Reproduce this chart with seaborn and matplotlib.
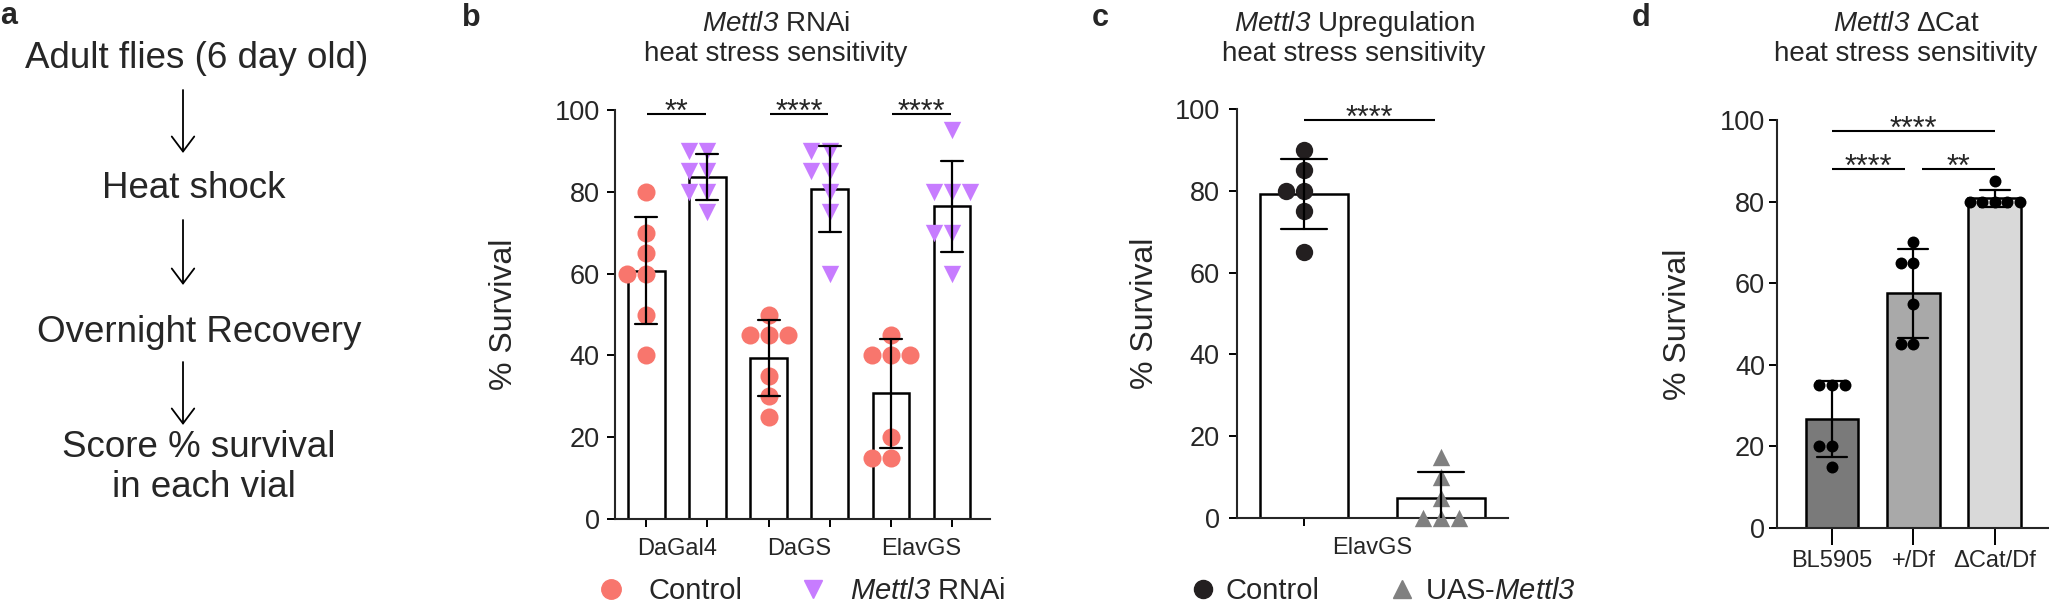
import numpy as np
import pandas as pd
import matplotlib
matplotlib.use("Agg")
import matplotlib.pyplot as plt
import seaborn as sns
from matplotlib.lines import Line2D

# ---------------- data ----------------
a_steps = ["Adult flies (6 day old)", "Heat shock", "Overnight Recovery", "Score % survival\nin each vial"]

b_groups = ["DaGal4", "DaGS", "ElavGS"]
b_conditions = ["Control", "Mettl3 RNAi"]
b_dagal4_control = [80, 70, 65, 60, 60, 50, 40]
b_dagal4_rnai = [90, 90, 85, 85, 80, 80, 75]
b_dags_control = [50, 45, 45, 45, 35, 30, 25]
b_dags_rnai = [90, 90, 85, 85, 80, 75, 60]
b_elavgs_control = [45, 40, 40, 40, 20, 15, 15]
b_elavgs_rnai = [95, 80, 80, 80, 70, 70, 60]
b_sig = ["**", "****", "****"]

c_group = "ElavGS"
c_conditions = ["Control", "UAS-Mettl3"]
c_control = [90, 85, 80, 80, 75, 65]
c_uas = [15, 10, 5, 0, 0, 0]
c_sig = "****"

d_genotypes = ["BL5905", "+/Df", "\u0394Cat/Df"]
d_bl5905 = [35, 35, 35, 20, 20, 15]
d_plus_df = [70, 65, 65, 55, 45, 45]
d_dcat_df = [85, 80, 80, 80, 80, 80]
d_sig_pairs = [(0, 2), (0, 1), (1, 2)]
d_sig = ["****", "****", "**"]

yticks = [0, 20, 40, 60, 80, 100]

# ---------------- style ----------------
PINK = "#F8766D"
PURPLE = "#C77CFF"
DARK = "#231F20"
GRAY = "#808080"
d_colors = ["#7A7A7A", "#A9A9A9", "#D9D9D9"]

sns.set_style("ticks")
plt.rcParams["font.family"] = ["Liberation Sans", "DejaVu Sans"]
plt.rcParams["mathtext.fontset"] = "custom"
# all math segments in this figure are the italic gene name
plt.rcParams["mathtext.rm"] = "Liberation Sans:italic"
plt.rcParams["mathtext.it"] = "Liberation Sans:italic"
plt.rcParams["mathtext.bf"] = "Liberation Sans:bold"
plt.rcParams["axes.linewidth"] = 1.5

GENE = r"$\mathrm{Mettl3}$"

W, H = 2049, 605
fig = plt.figure(figsize=(W / 100, H / 100), dpi=100)

# overlay axes in pixel coordinates for free text
ov = fig.add_axes([0, 0, 1, 1], zorder=-10)
ov.set_xlim(0, W)
ov.set_ylim(H, 0)
ov.axis("off")


def px_axes(x0, x1, y0, y1):
    """x0,x1 left/right px; y0 = px of bottom, y1 = px of top"""
    return fig.add_axes([x0 / W, (H - y0) / H, (x1 - x0) / W, (y0 - y1) / H])


TICK_FS = 19.5
YLAB_FS = 23
XT_FS = 17
LEG_FS = 21
STAR_FS = 22
TITLE_FS = 20


def style_axis(ax, ypad):
    sns.despine(ax=ax)
    ax.set_facecolor("none")
    ax.set_ylim(0, 100)
    ax.set_yticks(yticks)
    ax.set_yticklabels([str(v) for v in yticks])
    ax.tick_params(axis="y", labelsize=TICK_FS, length=5.5, width=1.4, pad=ypad, color="black")
    ax.tick_params(axis="x", which="major", length=5.5, width=1.4, color="black")
    ax.spines["left"].set_linewidth(1.5)
    ax.spines["bottom"].set_linewidth(1.5)
    ax.set_xlabel("")
    ax.set_ylabel("% Survival", fontsize=YLAB_FS)
    for coll in ax.collections:
        coll.set_clip_on(False)
        coll.set_zorder(4)
    for ln in ax.lines:
        ln.set_zorder(5)


def sig(ax, x0, x1, y, text):
    ax.plot([x0, x1], [y, y], color="black", lw=1.5, clip_on=False, solid_capstyle="butt")
    ax.annotate(text, xy=((x0 + x1) / 2, y), xytext=(0, -5), textcoords="offset points",
                ha="center", va="baseline", fontsize=STAR_FS, annotation_clip=False)


# ---------------- panel a ----------------
ov.text(0, 24, "a", fontsize=22, fontweight="bold", ha="left", va="baseline")
ov.text(197, 68, a_steps[0], fontsize=26.5, ha="center", va="baseline")
ov.text(194, 198, a_steps[1], fontsize=26.5, ha="center", va="baseline")
ov.text(199, 342, a_steps[2], fontsize=26.5, ha="center", va="baseline")
lines = a_steps[3].split("\n")
ov.text(199, 457, lines[0], fontsize=26.5, ha="center", va="baseline")
ov.text(204, 497, lines[1], fontsize=26.5, ha="center", va="baseline")
for ys, ye in [(90, 153), (220, 285), (362, 425)]:
    ov.annotate("", xy=(183, ye), xytext=(183, ys),
                arrowprops=dict(arrowstyle="->,head_length=0.4,head_width=0.3", lw=1.3,
                                color="black", mutation_scale=27, shrinkA=0, shrinkB=0))

# ---------------- panel b ----------------
b_order = [f"{g}|{c}" for g in b_groups for c in b_conditions]
b_values = [b_dagal4_control, b_dagal4_rnai, b_dags_control, b_dags_rnai, b_elavgs_control, b_elavgs_rnai]
rows = []
for key, vals in zip(b_order, b_values):
    cond = key.split("|")[1]
    for v in vals:
        rows.append({"pos": key, "value": v, "cond": cond})
df_b = pd.DataFrame(rows)

ax_b = px_axes(615, 990, 519, 110)
sns.barplot(data=df_b, x="pos", y="value", order=b_order, errorbar="sd", width=0.6,
            color="white", edgecolor="black", linewidth=1.8, capsize=0.36,
            err_kws={"color": "black", "linewidth": 1.6}, ax=ax_b)
sns.swarmplot(data=df_b[df_b["cond"] == b_conditions[0]], x="pos", y="value", order=b_order,
              color=PINK, size=13, marker="o", linewidth=0, ax=ax_b)
sns.swarmplot(data=df_b[df_b["cond"] == b_conditions[1]], x="pos", y="value", order=b_order,
              color=PURPLE, size=12.5, marker="v", linewidth=0, ax=ax_b)
style_axis(ax_b, ypad=5.5)
ax_b.set_xlim(-0.51, 5.62)
ax_b.set_xticks(range(len(b_order)))
ax_b.set_xticklabels([""] * len(b_order))
ax_b.set_xticks([0.5, 2.5, 4.5], minor=True)
ax_b.set_xticklabels(b_groups, minor=True, fontsize=XT_FS)
ax_b.tick_params(axis="x", which="minor", length=0, pad=14)
ax_b.yaxis.set_label_coords(-0.255, 0.5)
for i, s in enumerate(b_sig):
    sig(ax_b, 2 * i + 0.02, 2 * i + 0.98, 99.0, s)
ax_b.legend(handles=[Line2D([], [], marker="o", ls="", color=PINK, markersize=14),
                     Line2D([], [], marker="v", ls="", color=PURPLE, markersize=13)],
            labels=["Control", GENE + " RNAi"], ncol=2, frameon=False,
            fontsize=LEG_FS, handlelength=1.0, handletextpad=0.8, columnspacing=1.9,
            loc="center left", bbox_to_anchor=(596 / W, (H - 591) / H),
            bbox_transform=fig.transFigure, borderpad=0, borderaxespad=0)
ov.text(462, 26, "b", fontsize=22, fontweight="bold", ha="left", va="baseline")
ov.text(776, 31, GENE + " RNAi", fontsize=TITLE_FS, ha="center", va="baseline")
ov.text(776, 61, "heat stress sensitivity", fontsize=TITLE_FS, ha="center", va="baseline")

# ---------------- panel c ----------------
rows = [{"cond": c_conditions[0], "value": v} for v in c_control] + \
       [{"cond": c_conditions[1], "value": v} for v in c_uas]
df_c = pd.DataFrame(rows)
ax_c = px_axes(1237, 1508, 518, 109)
sns.barplot(data=df_c, x="cond", y="value", order=c_conditions, errorbar="sd", width=0.64,
            color="white", edgecolor="black", linewidth=1.8, capsize=0.34,
            err_kws={"color": "black", "linewidth": 1.6}, ax=ax_c)
sns.swarmplot(data=df_c[df_c["cond"] == c_conditions[0]], x="cond", y="value", order=c_conditions,
              color=DARK, size=12.5, marker="o", linewidth=0, ax=ax_c)
sns.swarmplot(data=df_c[df_c["cond"] == c_conditions[1]], x="cond", y="value", order=c_conditions,
              color=GRAY, size=12.5, marker="^", linewidth=0, ax=ax_c)
style_axis(ax_c, ypad=7)
ax_c.set_xlim(-0.49, 1.49)
ax_c.set_xticks([0, 1])
ax_c.set_xticklabels(["", ""])
ax_c.set_xticks([0.5], minor=True)
ax_c.set_xticklabels([c_group], minor=True, fontsize=XT_FS)
ax_c.tick_params(axis="x", which="minor", length=0, pad=14)
ax_c.yaxis.set_label_coords(-0.284, 0.5)
sig(ax_c, 0, 0.96, 97.3, c_sig)
ax_c.legend(handles=[Line2D([], [], marker="o", ls="", color=DARK, markersize=13),
                     Line2D([], [], marker="^", ls="", color=GRAY, markersize=13)],
            labels=["Control", "UAS-" + GENE], ncol=2, frameon=False,
            fontsize=LEG_FS, handlelength=1.0, handletextpad=0.3, columnspacing=2.3,
            loc="center left", bbox_to_anchor=(1188 / W, (H - 591) / H),
            bbox_transform=fig.transFigure, borderpad=0, borderaxespad=0)
ov.text(1092, 26, "c", fontsize=22, fontweight="bold", ha="left", va="baseline")
ov.text(1354, 31, GENE + " Upregulation", fontsize=TITLE_FS, ha="center", va="baseline")
ov.text(1354, 61, "heat stress sensitivity", fontsize=TITLE_FS, ha="center", va="baseline")

# ---------------- panel d ----------------
rows = []
for g, vals in zip(d_genotypes, [d_bl5905, d_plus_df, d_dcat_df]):
    for v in vals:
        rows.append({"genotype": g, "value": v})
df_d = pd.DataFrame(rows)
ax_d = px_axes(1777, 2060, 528, 120)
sns.barplot(data=df_d, x="genotype", y="value", hue="genotype", order=d_genotypes,
            hue_order=d_genotypes, palette=d_colors, legend=False, saturation=1,
            errorbar="sd", width=0.65, edgecolor="black", linewidth=1.8, capsize=0.37,
            err_kws={"color": "black", "linewidth": 1.6}, ax=ax_d)
sns.swarmplot(data=df_d, x="genotype", y="value", order=d_genotypes, color="black",
              size=8.6, linewidth=0, ax=ax_d)
style_axis(ax_d, ypad=3)
ax_d.set_xlim(-0.675, 2.8)
ax_d.tick_params(axis="x", which="major", length=12, labelsize=XT_FS, pad=4)
ax_d.yaxis.set_label_coords(-0.297, 0.5)
sig(ax_d, d_sig_pairs[0][0], d_sig_pairs[0][1], 97.3, d_sig[0])
sig(ax_d, d_sig_pairs[1][0], d_sig_pairs[1][1] - 0.1, 88.0, d_sig[1])
sig(ax_d, d_sig_pairs[2][0] + 0.1, d_sig_pairs[2][1], 88.0, d_sig[2])
ov.text(1632, 26, "d", fontsize=22, fontweight="bold", ha="left", va="baseline")
ov.text(1906, 31, GENE + " \u0394Cat", fontsize=TITLE_FS, ha="center", va="baseline")
ov.text(1906, 61, "heat stress sensitivity", fontsize=TITLE_FS, ha="center", va="baseline")

fig.savefig("out.png", dpi=100)
